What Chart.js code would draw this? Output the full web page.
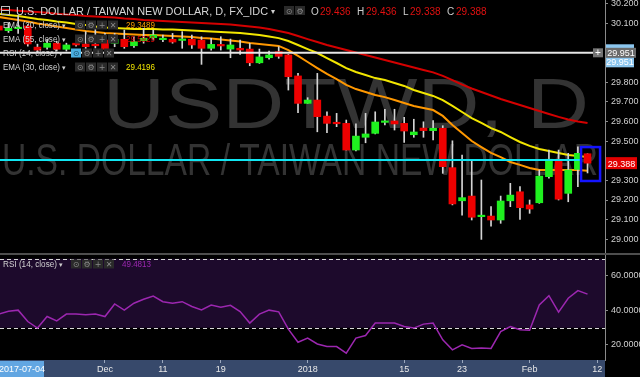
<!DOCTYPE html>
<html><head><meta charset="utf-8">
<script src="https://cdn.jsdelivr.net/npm/chart.js@4/dist/chart.umd.min.js"></script>
<style>
html,body{margin:0;padding:0;background:#000;width:640px;height:377px;overflow:hidden}
#main{position:absolute;left:0;top:0}
#sep{position:absolute;left:0;top:253px;width:640px;height:2px;background:#4e4e4e}
#rsi{position:absolute;left:0;top:255px}
</style></head><body>
<canvas id="main" width="640" height="253"></canvas>
<div id="sep"></div>
<canvas id="rsi" width="640" height="122"></canvas>
<script>
// ---- data (daily bars, 2017-11-16 .. 2018-02-09) ----
const dates = ['2017-11-16','2017-11-17','2017-11-20','2017-11-21','2017-11-22','2017-11-23','2017-11-24','2017-11-27','2017-11-28','2017-11-29','2017-11-30',
'2017-12-01','2017-12-04','2017-12-05','2017-12-06','2017-12-07','2017-12-08','2017-12-11','2017-12-12','2017-12-13','2017-12-14','2017-12-15',
'2017-12-18','2017-12-19','2017-12-20','2017-12-21','2017-12-22','2017-12-25','2017-12-26','2017-12-27','2017-12-28','2017-12-29',
'2018-01-01','2018-01-02','2018-01-03','2018-01-04','2018-01-05','2018-01-08','2018-01-09','2018-01-10','2018-01-11','2018-01-12',
'2018-01-15','2018-01-16','2018-01-17','2018-01-18','2018-01-19','2018-01-22','2018-01-23','2018-01-24','2018-01-25','2018-01-26',
'2018-01-29','2018-01-30','2018-01-31','2018-02-01','2018-02-02','2018-02-05','2018-02-06','2018-02-07','2018-02-08','2018-02-09'];
const opens = [30.088,30.064,30.074,30.088,29.980,29.979,30.000,29.969,30.000,29.996,29.991,30.016,
29.999,30.020,29.987,30.013,30.028,30.018,30.020,30.014,30.020,30.016,
29.974,29.994,29.970,29.974,29.970,29.900,29.926,29.957,29.940,29.833,
29.693,29.710,29.628,29.593,29.591,29.455,29.520,29.540,29.596,29.603,
29.591,29.533,29.567,29.554,29.566,29.365,29.196,29.220,29.115,29.118,
29.098,29.196,29.242,29.175,29.186,29.319,29.408,29.234,29.356,29.436];
const highs = [30.100,30.105,30.140,30.095,29.995,30.020,30.010,30.000,30.020,30.059,30.090,30.050,
30.050,30.067,30.033,30.076,30.067,30.042,30.050,30.059,30.042,30.033,
30.025,30.033,30.021,30.016,29.999,29.970,29.960,29.982,29.943,29.846,
29.722,29.846,29.650,29.642,29.608,29.588,29.642,29.650,29.663,29.663,
29.622,29.612,29.599,29.605,29.579,29.502,29.429,29.404,29.302,29.166,
29.220,29.285,29.268,29.200,29.353,29.455,29.455,29.438,29.471,29.436];
const lows = [30.060,30.055,30.050,29.985,29.955,29.970,29.960,29.960,29.985,29.948,29.975,29.957,
29.982,29.974,29.979,30.000,30.016,30.008,30.000,29.974,29.974,29.892,
29.965,29.965,29.926,29.943,29.885,29.897,29.919,29.923,29.761,29.645,
29.693,29.548,29.543,29.574,29.455,29.451,29.492,29.537,29.583,29.557,
29.494,29.520,29.520,29.506,29.336,29.175,29.123,29.098,28.999,29.067,
29.081,29.166,29.101,29.132,29.183,29.311,29.200,29.191,29.268,29.338];
const closes = [30.067,30.076,30.078,29.996,29.965,30.000,29.969,29.991,29.991,29.982,29.987,29.969,
30.020,29.982,30.008,30.025,30.042,30.021,30.006,30.017,29.991,29.974,
29.994,29.986,29.991,29.965,29.900,29.930,29.940,29.933,29.829,29.693,
29.710,29.625,29.591,29.589,29.455,29.526,29.537,29.598,29.598,29.588,
29.552,29.547,29.554,29.566,29.370,29.180,29.212,29.112,29.118,29.098,
29.195,29.225,29.161,29.154,29.322,29.408,29.204,29.353,29.438,29.388];
const ema20 = [30.134,30.126,30.118,30.111,30.101,30.093,30.085,30.078,30.070,30.062,30.057,30.052,
30.050,30.047,30.044,30.042,30.042,30.039,30.037,30.034,30.032,30.026,
30.024,30.019,30.014,30.009,30.001,29.996,29.991,29.986,29.965,29.935,
29.904,29.873,29.843,29.817,29.787,29.766,29.751,29.736,29.725,29.710,
29.695,29.680,29.669,29.659,29.629,29.583,29.542,29.501,29.470,29.440,
29.419,29.394,29.379,29.363,29.353,29.353,29.353,29.353,29.353,29.349];
const ema30 = [30.149,30.144,30.139,30.131,30.123,30.118,30.111,30.106,30.098,30.093,30.085,30.080,
30.078,30.075,30.072,30.072,30.072,30.070,30.070,30.067,30.065,30.062,
30.060,30.057,30.055,30.052,30.047,30.042,30.034,30.026,30.011,29.991,
29.970,29.950,29.924,29.899,29.873,29.853,29.838,29.822,29.812,29.797,
29.782,29.761,29.746,29.731,29.710,29.680,29.649,29.618,29.593,29.567,
29.547,29.521,29.496,29.476,29.460,29.450,29.440,29.430,29.424,29.420];
const ema55 = [30.172,30.169,30.166,30.162,30.159,30.155,30.150,30.147,30.144,30.139,30.136,30.134,
30.131,30.126,30.123,30.118,30.116,30.113,30.111,30.108,30.106,30.103,
30.101,30.098,30.095,30.090,30.085,30.080,30.072,30.062,30.052,30.037,
30.021,30.006,29.991,29.978,29.965,29.953,29.940,29.927,29.914,29.902,
29.889,29.876,29.863,29.851,29.833,29.812,29.789,29.769,29.751,29.733,
29.715,29.700,29.685,29.669,29.654,29.639,29.624,29.611,29.601,29.593];
const rsi = [37.9,39.6,40.2,33.6,29.8,36.5,34.0,37.9,37.9,37.5,38.0,36.5,
43.8,40.2,44.2,46.5,48.4,45.1,44.2,45.1,42.3,40.3,
43.2,41.9,43.0,39.4,32.7,37.9,40.2,39.2,29.2,21.6,
24.0,20.6,19.1,19.1,15.3,24.0,25.5,32.7,32.7,32.7,
30.7,29.8,32.1,32.7,23.0,17.2,20.1,18.0,18.2,18.0,
27.8,30.7,28.8,28.6,43.2,48.6,39.0,47.1,51.5,49.48];
const xTickPos = [11,17,23,32,42,48,55,62];
const xTickLabels = ['Dec','11','19','2018','15','23','Feb','12'];
const yTicks = [30.2,30.1,29.8,29.7,29.6,29.5,29.3,29.2,29.1,29.0];
const rsiTicks = [20,40,60];
const hLineWhite = 29.951, hLineCyan = 29.404;
const boxRange = {x0:60.33, x1:62.30, y0:29.470, y1:29.297};

// ---- style ----
const FONT = "'Liberation Sans', Arial, sans-serif";
const UP = '#1ff01f', DOWN = '#ee0000', WICK = '#d4d4d4';
const xMin = 0.12, xMax = 62.81;

function txt(ctx, s, x, y, size, color, w, align) {
  ctx.font = size + 'px ' + FONT;
  ctx.fillStyle = color; ctx.textAlign = align || 'left'; ctx.textBaseline = 'alphabetic';
  if (w) { const m = ctx.measureText(s).width; ctx.save(); ctx.translate(x, y); ctx.scale(w / m, 1); ctx.fillText(s, 0, 0); ctx.restore(); }
  else ctx.fillText(s, x, y);
}
function btn(ctx, x, y, glyph, bg) {
  ctx.fillStyle = bg || '#2a2a2a'; ctx.fillRect(x, y, 10, 9);
  ctx.fillStyle = bg ? '#1a4a66' : '#8a8a8a'; ctx.font = '8px "DejaVu Sans"'; ctx.textAlign = 'center'; ctx.textBaseline = 'alphabetic';
  ctx.fillText(glyph, x + 5, y + 7.5);
}
function legendRow(ctx, label, base, w, bx, val, vcol, hi) {
  txt(ctx, label, 3, base, 8.5, '#d2d2d2', w);
  txt(ctx, '\u25BE', 3 + w + 2, base, 7, '#cfcfcf');
  const g = ['\u2299', '\u2699', '+', '\u2715'];
  for (let i = 0; i < 4; i++) btn(ctx, bx + i * 11, base - 7.5, g[i], (hi && i === 0) ? '#4aaee0' : null);
  if (val) txt(ctx, val, 126, base, 8.5, vcol, 29);
}

const mainDecor = {
  id: 'mainDecor',
  beforeDatasetsDraw(chart) {
    const ctx = chart.ctx; const a = chart.chartArea;
    ctx.save(); ctx.beginPath(); ctx.rect(a.left, a.top, a.right - a.left, a.bottom - a.top); ctx.clip();
    txt(ctx, 'USDTWD, D', 103, 128, 71, '#333333', 486);
    txt(ctx, 'U.S. DOLLAR / TAIWAN NEW DOLLAR', 2, 175, 44, '#333333', 596);
    ctx.restore();
  },
  afterDatasetsDraw(chart) {
    const ctx = chart.ctx, y = chart.scales.y, x = chart.scales.x;
    ctx.save();
    ctx.strokeStyle = '#10e6f2'; ctx.lineWidth = 2;
    let py = y.getPixelForValue(hLineCyan);
    ctx.beginPath(); ctx.moveTo(0, py); ctx.lineTo(582, py); ctx.stroke();
    ctx.strokeStyle = '#e6e6e6'; ctx.lineWidth = 2;
    py = y.getPixelForValue(hLineWhite);
    ctx.beginPath(); ctx.moveTo(0, py); ctx.lineTo(594, py); ctx.stroke();
    ctx.strokeStyle = '#1414ff'; ctx.lineWidth = 2.5;
    const bx0 = x.getPixelForValue(boxRange.x0), bx1 = x.getPixelForValue(boxRange.x1);
    const by0 = y.getPixelForValue(boxRange.y0), by1 = y.getPixelForValue(boxRange.y1);
    ctx.strokeRect(bx0, by0, bx1 - bx0, by1 - by0);
    ctx.restore();
  },
  afterDraw(chart) {
    const ctx = chart.ctx, y = chart.scales.y;
    ctx.save();
    ctx.strokeStyle = '#bdbdbd'; ctx.lineWidth = 1; ctx.strokeRect(1.5, 6.5, 8, 8);
    ctx.beginPath(); ctx.moveTo(1.5, 10.5); ctx.lineTo(9.5, 10.5); ctx.stroke();
    txt(ctx, 'U.S. DOLLAR / TAIWAN NEW DOLLAR, D, FX_IDC', 16, 15, 11, '#d6d6d6', 252);
    txt(ctx, '\u25BE', 271, 14, 8, '#cfcfcf');
    btn(ctx, 284, 6, '\u2299'); btn(ctx, 295, 6, '\u2699');
    const ohlc = [['O', 311, '29.436', 320], ['H', 357, '29.436', 366], ['L', 403, '29.338', 410], ['C', 447, '29.388', 456]];
    ohlc.forEach(o => { txt(ctx, o[0], o[1], 15, 10, '#cfcfcf'); txt(ctx, o[2], o[3], 15, 10, '#e01010'); });
    legendRow(ctx, 'EMA (20, close)', 28, 57, 75, '29.3489', '#ff9d00');
    legendRow(ctx, 'EMA (55, close)', 42, 57, 75, '29.5929', '#e00000');
    legendRow(ctx, 'RSI (14, close)', 56, 54, 71, null, null, true);
    legendRow(ctx, 'EMA (30, close)', 70, 57, 75, '29.4196', '#f2e600');
    const pw = y.getPixelForValue(hLineWhite);
    ctx.fillStyle = '#8cc6ee'; ctx.fillRect(606, pw - 8.5, 28, 23);
    ctx.fillStyle = '#6a6a6a'; ctx.fillRect(606, pw - 5, 30, 10);
    txt(ctx, '29.951', 621, pw + 3.5, 9, '#ffffff', null, 'center');
    txt(ctx, '29.951', 620, pw + 12.5, 9, '#ffffff', null, 'center');
    ctx.fillStyle = '#737373'; ctx.fillRect(593, pw - 4.5, 10, 9);
    txt(ctx, '+', 598, pw + 3.5, 10, '#ffffff', null, 'center');
    const pc = y.getPixelForValue(29.388);
    ctx.fillStyle = '#e30000'; ctx.fillRect(606, pc - 6, 31, 12);
    txt(ctx, '29.388', 621.5, pc + 3.5, 9, '#ffffff', null, 'center');
    ctx.restore();
  }
};

const common = { responsive: false, animation: false, devicePixelRatio: 1, events: [], layout: { padding: 0 },
  plugins: { legend: { display: false }, tooltip: { enabled: false } } };

new Chart(document.getElementById('main'), {
  type: 'bar',
  data: { datasets: [
    { type: 'bar', data: closes.map((c, i) => ({ x: i, y: [opens[i], c] })), backgroundColor: closes.map((c, i) => c >= opens[i] ? UP : DOWN),
      barThickness: 7, grouped: false, minBarLength: 1.5, borderWidth: 0, order: 0 },
    { type: 'bar', data: highs.map((h, i) => ({ x: i, y: [lows[i], h] })), backgroundColor: WICK, barThickness: 1, grouped: false, borderWidth: 0, order: 1 },
    { type: 'line', data: ema55.map((v, i) => ({ x: i, y: v })), borderColor: '#d40000', borderWidth: 2, pointRadius: 0, order: 2 },
    { type: 'line', data: ema30.map((v, i) => ({ x: i, y: v })), borderColor: '#f2e600', borderWidth: 2, pointRadius: 0, order: 2 },
    { type: 'line', data: ema20.map((v, i) => ({ x: i, y: v })), borderColor: '#ff9800', borderWidth: 2, pointRadius: 0, order: 2 }
  ] },
  options: Object.assign({}, common, {
    scales: {
      x: { type: 'linear', min: xMin, max: xMax, display: false, offset: false },
      y: { position: 'right', min: 28.9296, max: 30.2204,
        afterBuildTicks: s => { s.ticks = yTicks.map(v => ({ value: v })); },
        afterFit: s => { s.width = 35; s.paddingTop = 0; s.paddingBottom = 0; },
        ticks: { autoSkip: false, color: '#d0d0d0', font: { size: 9, family: FONT }, padding: 3, callback: v => Number(v).toFixed(3) },
        grid: { drawOnChartArea: false, drawTicks: true, tickLength: 3, color: '#8a8a8a' },
        border: { display: true, color: '#8a8a8a', width: 1 } }
    }
  }),
  plugins: [mainDecor]
});

const rsiDecor = {
  id: 'rsiDecor',
  beforeDraw(chart) {
    const ctx = chart.ctx, a = chart.chartArea;
    ctx.save(); ctx.fillStyle = '#37496b'; ctx.fillRect(0, a.bottom, a.right, chart.height - a.bottom); ctx.restore();
  },
  beforeDatasetsDraw(chart) {
    const ctx = chart.ctx, a = chart.chartArea, y = chart.scales.y;
    const y70 = y.getPixelForValue(70), y30 = y.getPixelForValue(30);
    ctx.save();
    ctx.fillStyle = '#1d0a2c'; ctx.fillRect(a.left, y70, a.right - a.left, y30 - y70);
    ctx.strokeStyle = '#d8d8d8'; ctx.lineWidth = 1; ctx.setLineDash([4, 3]);
    [y70, y30].forEach(p => { ctx.beginPath(); ctx.moveTo(a.left, Math.round(p) + 0.5); ctx.lineTo(a.right, Math.round(p) + 0.5); ctx.stroke(); });
    ctx.restore();
  },
  afterDraw(chart) {
    const ctx = chart.ctx, a = chart.chartArea;
    ctx.save();
    txt(ctx, 'RSI (14, close)', 3, 12, 8.5, '#d2d2d2', 54);
    txt(ctx, '\u25BE', 59, 12, 7, '#cfcfcf');
    const g = ['\u2299', '\u2699', '+', '\u2715'];
    for (let i = 0; i < 4; i++) btn(ctx, 71 + i * 11, 4.5, g[i]);
    txt(ctx, '49.4813', 122, 12, 8.5, '#9b27b0', 29);
    ctx.fillStyle = '#62a6e2'; ctx.fillRect(0, a.bottom + 1, 44, chart.height - a.bottom - 1);
    txt(ctx, '2017-07-04', 22, a.bottom + 12, 9, '#ffffff', null, 'center');
    ctx.restore();
  }
};

new Chart(document.getElementById('rsi'), {
  type: 'line',
  data: { datasets: [ { data: rsi.map((v, i) => ({ x: i, y: v })), borderColor: '#9c27b0', borderWidth: 1.5, pointRadius: 0 } ] },
  options: Object.assign({}, common, {
    scales: {
      x: { type: 'linear', min: xMin, max: xMax, offset: false, position: 'bottom',
        afterBuildTicks: s => { s.ticks = xTickPos.map(v => ({ value: v })); },
        afterFit: s => { s.height = 17; s.paddingLeft = 0; s.paddingRight = 0; },
        ticks: { autoSkip: false, maxRotation: 0, color: '#e8e8e8', font: { size: 9, family: FONT }, padding: 1, callback: (v, i) => xTickLabels[i] },
        grid: { drawOnChartArea: false, drawTicks: true, tickLength: 3, color: '#9aa7bd' },
        border: { display: false } },
      y: { position: 'right', min: 11.30, max: 72.17,
        afterBuildTicks: s => { s.ticks = rsiTicks.map(v => ({ value: v })); },
        afterFit: s => { s.width = 35; s.paddingTop = 0; s.paddingBottom = 0; },
        ticks: { autoSkip: false, color: '#d0d0d0', font: { size: 9, family: FONT }, padding: 3, callback: v => Number(v).toFixed(4) },
        grid: { drawOnChartArea: false, drawTicks: true, tickLength: 3, color: '#8a8a8a' },
        border: { display: true, color: '#8a8a8a', width: 1 } }
    }
  }),
  plugins: [rsiDecor]
});
</script>
</body></html>
